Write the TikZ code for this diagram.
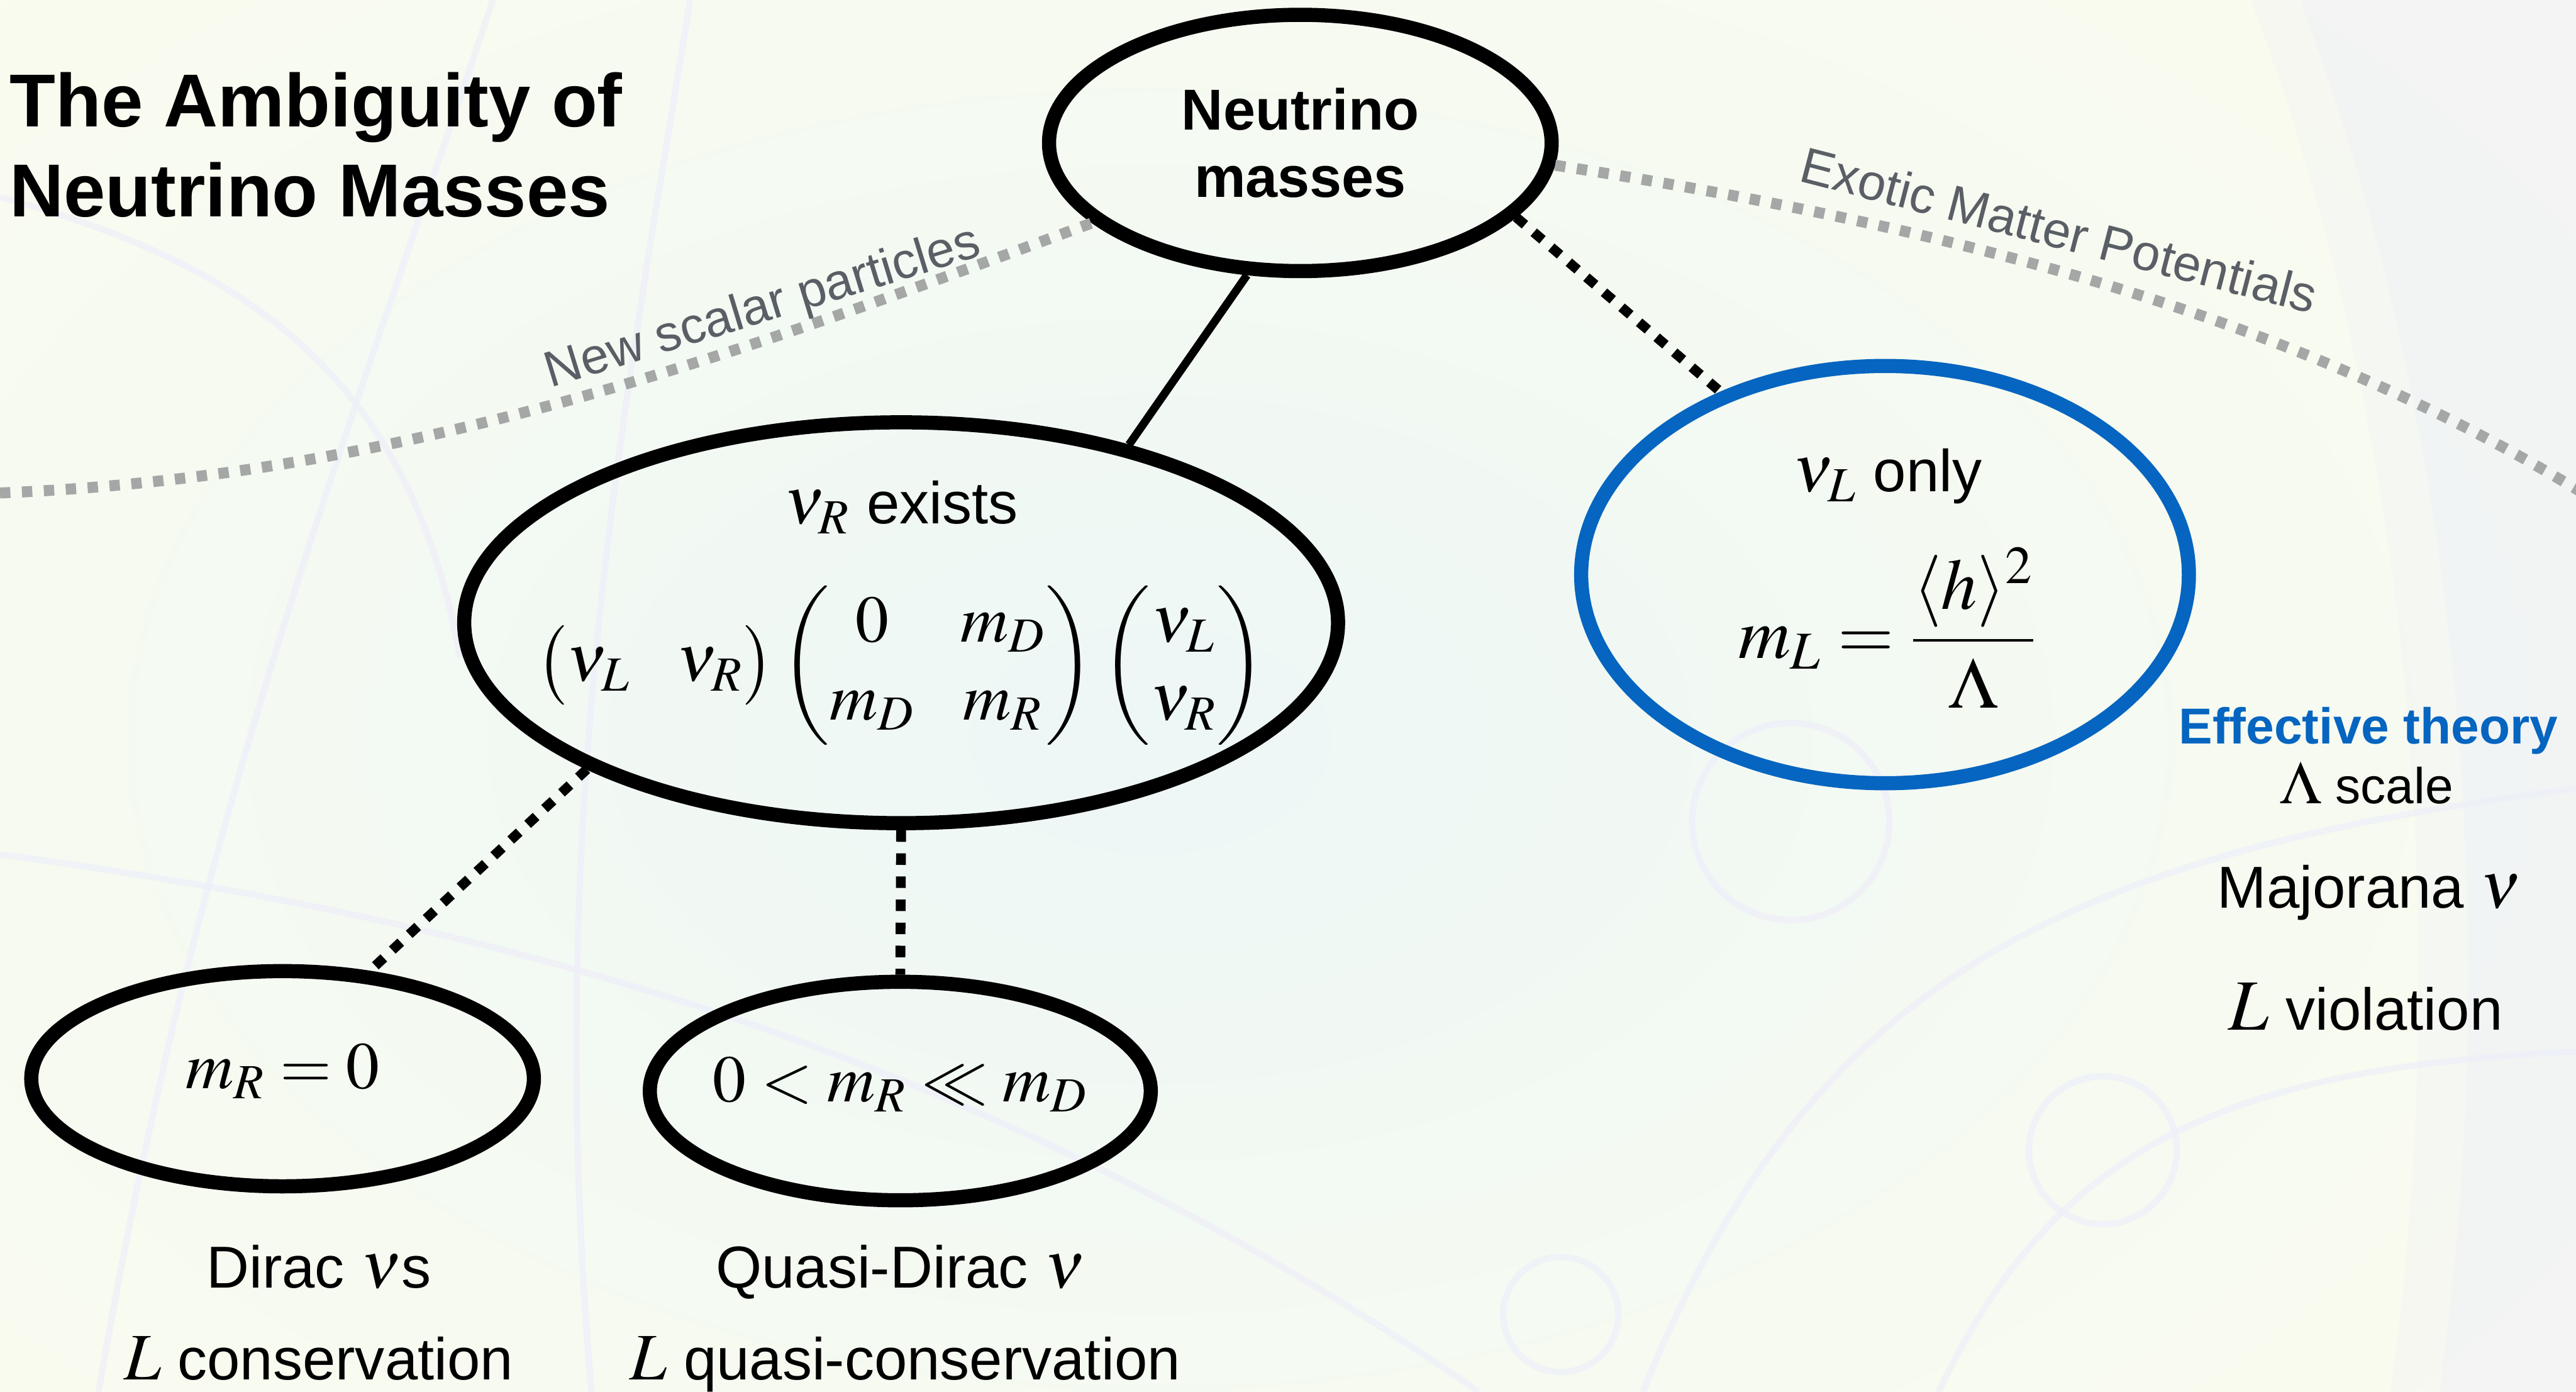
\documentclass[tikz,border=0pt]{standalone}
\usepackage{amsmath}
\usepackage{mathptmx}
\usepackage[no-math]{fontspec}
\setmainfont{Liberation Sans}
\usetikzlibrary{shapes.geometric}
\definecolor{bgcream}{HTML}{FCFCEE}
\definecolor{bgcyan}{HTML}{EDF7F6}
\definecolor{lav}{HTML}{EEF0F8}
\definecolor{dotgray}{HTML}{A5A7A7}
\definecolor{txtgray}{HTML}{5A5F66}
\definecolor{effblue}{HTML}{0565C0}
\newcommand\mm[1]{{\fontsize{23}{27}\selectfont$#1$}}
\begin{document}
\begin{tikzpicture}[x=0.02cm,y=-0.02cm,
  oval/.style={ellipse, draw=black, line width=4.9pt, inner sep=0pt},
  intext/.style={inner sep=0pt, align=center, font=\fontsize{20.5}{24}\selectfont},
  blackdots/.style={line width=3.4pt, dash pattern=on 4pt off 4pt, black},
  graydots/.style={line width=3.8pt, dash pattern=on 3.6pt off 4pt, dotgray},
  conn/.style={line width=2.8pt, black},
  sans/.style={font=\fontsize{20.5}{24}\selectfont, inner sep=0pt, anchor=base},
  slanted/.style={font=\fontsize{17.5}{20}\selectfont, text=txtgray, inner sep=0pt, anchor=base west},
  track/.style={draw=lav, line width=2.2pt, opacity=0.8}
]
% background
\useasboundingbox (0,0) rectangle (1568,847);
\begin{scope}
\clip (0,0) rectangle (1568,847);
\fill[bgcream] (0,0) rectangle (1568,847);
\shade[inner color=bgcyan, outer color=bgcream] (-400,-250) rectangle (1800,1150);
\fill[lav, opacity=0.3] (1370,0) .. controls (1465,250) and (1495,560) .. (1455,847) -- (1568,847) -- (1568,0) -- cycle;
\fill[lav, opacity=0.4] (1400,0) .. controls (1495,250) and (1525,560) .. (1485,847) -- (1568,847) -- (1568,0) -- cycle;
\draw[track] (60,847) .. controls (120,500) and (200,300) .. (300,0);
\draw[track] (420,0) .. controls (380,250) and (330,500) .. (360,847);
\draw[track] (0,520) .. controls (300,560) and (600,640) .. (900,847);
\draw[track] (1000,847) .. controls (1100,600) and (1250,520) .. (1568,480);
\draw[track] (1090,500) circle (60);
\draw[track] (1280,700) circle (45);
\draw[track] (950,800) circle (35);
\draw[track] (1180,847) .. controls (1250,700) and (1350,650) .. (1568,640);
\draw[track] (0,120) .. controls (150,160) and (250,230) .. (280,400);
\end{scope}

% title
\node[font=\bfseries\fontsize{26}{31.3}\selectfont, align=left, anchor=base west, inner sep=0pt] (title) at (5.5,132) {The Ambiguity of\\Neutrino Masses};

% ellipses
\node[oval, minimum width=6.12cm, minimum height=3.12cm] (nm) at (791.5,87) {};
\node[oval, minimum width=10.64cm, minimum height=4.88cm] (nr) at (548.5,379) {};
\node[oval, draw=effblue, minimum width=7.4cm, minimum height=5.08cm] (nl) at (1147.4,349.7) {};
\node[oval, minimum width=6.12cm, minimum height=2.62cm] (m0) at (172,656.5) {};
\node[oval, minimum width=6.1cm, minimum height=2.66cm] (qd) at (548,664) {};

% ellipse contents
\node[intext, font=\bfseries\fontsize{20}{23.5}\selectfont] (nmt) at (791.5,87) {Neutrino\\masses};
\node[intext] (nrt) at (548.5,373)
  {\mm{\nu_R} exists\\[17pt]
   {\setlength{\arraycolsep}{8pt}\mm{\begin{pmatrix}\nu_L & \nu_R\end{pmatrix}\begin{pmatrix}0 & m_D\\ m_D & m_R\end{pmatrix}\begin{pmatrix}\nu_L\\ \nu_R\end{pmatrix}}}};
\node[intext] (nlt) at (1149,352)
  {\mm{\nu_L} only\\[14pt] {\fontsize{25}{29}\selectfont$m_L = \dfrac{\langle h\rangle^2}{\Lambda}$}};
\node[intext] (m0t) at (172,652) {\mm{m_R = 0}};
\node[intext] (qdt) at (548,660) {\mm{0 < m_R \ll m_D}};

% gray dotted arcs and labels
\coordinate (gl) at (0,300);
\coordinate (gr) at (1572,300);
\draw[graydots] (gl) .. controls (250,290) and (450,215) .. (nm.201.6);
\draw[graydots] (nm.-5.9) .. controls (1200,140) and (1400,195) .. (gr);
\node[slanted, rotate=17] (nsp) at (335,236) {New scalar particles};
\node[slanted, rotate=-14.5] (emp) at (1094,110) {Exotic Matter Potentials};

% connectors
\draw[conn] (nm.248.1) -- (nr.38.7);
\draw[blackdots] (nm.-19) -- (nl.132.5);
\draw[blackdots] (nr.205.5) -- (m0.51.4);
\draw[blackdots] (nr.south) -- (qd.north);

% labels below
\node[sans] (dl1) at (194,783.7) {Dirac \mm{\nu}s};
\node[sans] (dl2) at (194,839.8) {\mm{L} conservation};
\node[sans] (ql1) at (548,783.7) {Quasi-Dirac \mm{\nu}};
\node[sans] (ql2) at (551,839.8) {\mm{L} quasi-conservation};

% right column
\node[font=\bfseries\fontsize{17.5}{20}\selectfont, text=effblue, anchor=base, inner sep=0pt] (eff) at (1441.6,452.5) {Effective theory};
\node[font=\fontsize{17.5}{20}\selectfont, anchor=base, inner sep=0pt] (lam) at (1440.5,489) {{\fontsize{21}{25}\selectfont$\Lambda$} scale};
\node[sans] (maj) at (1442,552.5) {Majorana \mm{\nu}};
\node[sans] (lv) at (1440,626.8) {{\fontsize{25}{29}\selectfont$L$} violation};
\end{tikzpicture}
\end{document}
